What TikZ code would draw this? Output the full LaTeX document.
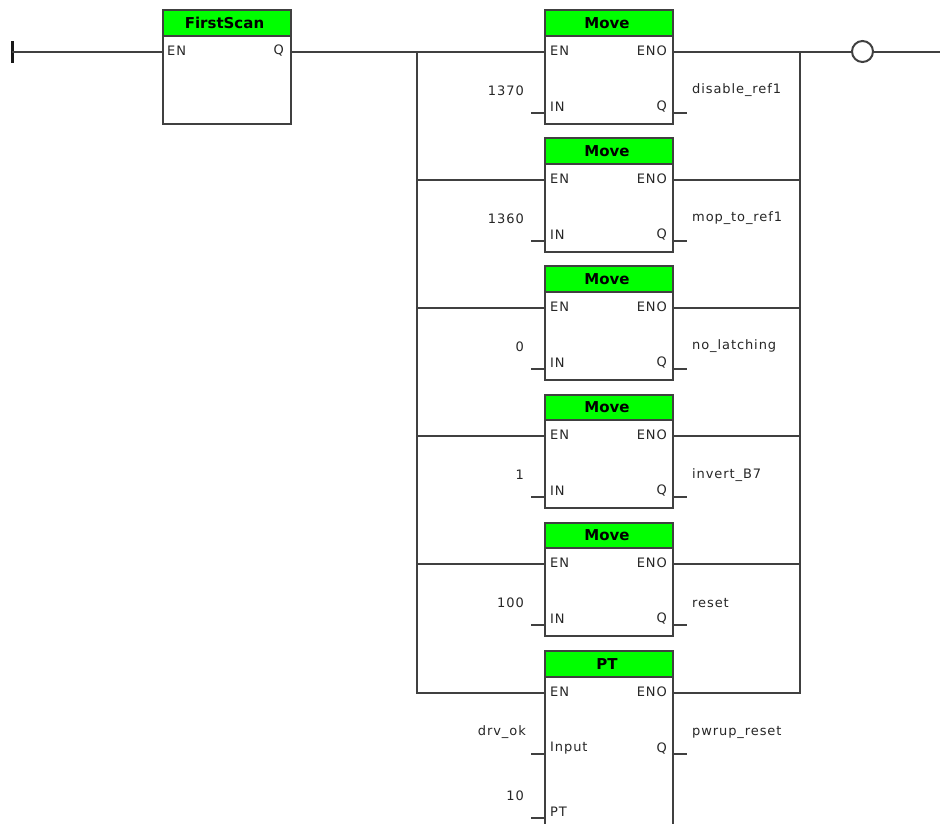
\documentclass[tikz,border=0pt]{standalone}
\usepackage{fontspec}
\newfontfamily\pinfont[LetterSpace=7]{DejaVu Sans}
\newfontfamily\headfont{DejaVu Sans Bold}
\tikzset{
  wire/.style={draw=black!75,line width=2pt},
  fbhead/.style={draw=black!75,line width=2pt,fill=green,minimum width=128pt,minimum height=25.5pt,inner sep=0pt,font=\headfont\fontsize{15}{15}\selectfont,execute at end node=\hspace*{4pt}},
  fbbody/.style={draw=black!75,line width=2pt,fill=white,minimum width=128pt,inner sep=0pt},
  pinl/.style={anchor=west,inner sep=0pt,font=\pinfont\fontsize{13}{13}\selectfont,text=black!85},
  pinr/.style={anchor=east,inner sep=0pt,font=\pinfont\fontsize{13}{13}\selectfont,text=black!85},
}
\begin{document}
\begin{tikzpicture}[x=1pt,y=-1pt]
   \useasboundingbox (0,0) rectangle (940,823);
   \clip (0,0) rectangle (940,823);

   % rail and contact block
   \draw[line width=3pt,black!90] (12,41) -- (12,63);
   \coordinate (rail) at (12,51.5);
   \node[fbbody,minimum height=88pt] (scanbody) at (226.5,79.5) {};
   \node[fbhead] (scanhead) at (226.5,23) {FirstScan};
   \coordinate (scanen) at (162.5,51.5);
   \coordinate (scanq) at (290.5,51.5);
   \node[pinl] (scanenl) at (167,50.5) {EN};
   \node[pinr] (scanql) at (284,50.5) {Q};

   % move blocks
   \node[fbbody,minimum height=88pt] (bodya) at (609,79.5) {};
   \node[fbhead] (heada) at (609,23) {Move};
   \node[fbbody,minimum height=88pt] (bodyb) at (609,207.5) {};
   \node[fbhead] (headb) at (609,151) {Move};
   \node[fbbody,minimum height=88pt] (bodyc) at (609,335.5) {};
   \node[fbhead] (headc) at (609,279) {Move};
   \node[fbbody,minimum height=88pt] (bodyd) at (609,464) {};
   \node[fbhead] (headd) at (609,407.5) {Move};
   \node[fbbody,minimum height=88pt] (bodye) at (609,592) {};
   \node[fbhead] (heade) at (609,535.5) {Move};
   \node[fbbody,minimum height=200pt] (bodyf) at (609,776) {};
   \node[fbhead] (headf) at (609,664) {PT};

   \coordinate (ena) at (545,51.5);  \coordinate (enoa) at (673,51.5);
   \coordinate (enb) at (545,179.5); \coordinate (enob) at (673,179.5);
   \coordinate (enc) at (545,307.5); \coordinate (enoc) at (673,307.5);
   \coordinate (end) at (545,436);   \coordinate (enod) at (673,436);
   \coordinate (ene) at (545,564);   \coordinate (enoe) at (673,564);
   \coordinate (enf) at (545,692.5); \coordinate (enof) at (673,692.5);

   \coordinate (busl) at (417,51.5);
   \coordinate (busr) at (800,51.5);
   \coordinate (buslb) at (417,179.5); \coordinate (busrb) at (800,179.5);
   \coordinate (buslc) at (417,307.5); \coordinate (busrc) at (800,307.5);
   \coordinate (busld) at (417,436);   \coordinate (busrd) at (800,436);
   \coordinate (busle) at (417,564);   \coordinate (busre) at (800,564);
   \coordinate (buslf) at (417,692.5); \coordinate (busrf) at (800,692.5);

   \node[draw=black!75,line width=2pt,circle,minimum size=21pt,inner sep=0pt] (coil) at (862.5,51.5) {};
   \coordinate (railr) at (940,51.5);

   % rungs
   \draw[wire] (rail) -- (scanen);
   \draw[wire] (scanq) -- (ena);
   \draw[wire] (enoa) -- (coil);
   \draw[wire] (coil) -- (railr);
   \draw[wire] (busl) -- (buslf) -- (enf);
   \draw[wire] (busr) -- (busrf) -- (enof);
   \draw[wire] (buslb) -- (enb);
   \draw[wire] (buslc) -- (enc);
   \draw[wire] (busld) -- (end);
   \draw[wire] (busle) -- (ene);
   \draw[wire] (enob) -- (busrb);
   \draw[wire] (enoc) -- (busrc);
   \draw[wire] (enod) -- (busrd);
   \draw[wire] (enoe) -- (busre);

   % stubs
   \draw[wire] (bodya.west |- 0,112.5) -- ++(-13,0);
   \draw[wire] (bodya.east |- 0,112.5) -- ++(13,0);
   \draw[wire] (bodyb.west |- 0,240.5) -- ++(-13,0);
   \draw[wire] (bodyb.east |- 0,240.5) -- ++(13,0);
   \draw[wire] (bodyc.west |- 0,368.5) -- ++(-13,0);
   \draw[wire] (bodyc.east |- 0,368.5) -- ++(13,0);
   \draw[wire] (bodyd.west |- 0,497) -- ++(-13,0);
   \draw[wire] (bodyd.east |- 0,497) -- ++(13,0);
   \draw[wire] (bodye.west |- 0,625) -- ++(-13,0);
   \draw[wire] (bodye.east |- 0,625) -- ++(13,0);
   \draw[wire] (bodyf.west |- 0,754) -- ++(-13,0);
   \draw[wire] (bodyf.east |- 0,754) -- ++(13,0);
   \draw[wire] (bodyf.west |- 0,818) -- ++(-13,0);

   % pin texts
   \node[pinl] (ena1) at (550,50.5) {EN};   \node[pinr] (enoa1) at (667,50.5) {ENO};
   \node[pinl] (ina) at (550,106.5) {IN};   \node[pinr] (qa) at (667,106.5) {Q};
   \node[pinl] (enb1) at (550,178.5) {EN};  \node[pinr] (enob1) at (667,178.5) {ENO};
   \node[pinl] (inb) at (550,234.5) {IN};   \node[pinr] (qb) at (667,234.5) {Q};
   \node[pinl] (enc1) at (550,306.5) {EN};  \node[pinr] (enoc1) at (667,306.5) {ENO};
   \node[pinl] (inc) at (550,362.5) {IN};   \node[pinr] (qc) at (667,362.5) {Q};
   \node[pinl] (end1) at (550,435) {EN};    \node[pinr] (enod1) at (667,435) {ENO};
   \node[pinl] (ind) at (550,491) {IN};     \node[pinr] (qd) at (667,491) {Q};
   \node[pinl] (ene1) at (550,563) {EN};    \node[pinr] (enoe1) at (667,563) {ENO};
   \node[pinl] (ine) at (550,619) {IN};     \node[pinr] (qe) at (667,619) {Q};
   \node[pinl] (enf1) at (550,691.5) {EN};  \node[pinr] (enof1) at (667,691.5) {ENO};
   \node[pinl] (inf) at (550,748) {Input};  \node[pinr] (qf) at (667,748) {Q};
   \node[pinl] (ptf) at (550,812) {PT};

   % values
   \node[pinr] (vala) at (524,90.5) {1370};
   \node[pinl] (outa) at (692,90.5) {disable\_ref1};
   \node[pinr] (valb) at (524,218.5) {1360};
   \node[pinl] (outb) at (692,218.5) {mop\_to\_ref1};
   \node[pinr] (valc) at (524,346.5) {0};
   \node[pinl] (outc) at (692,346.5) {no\_latching};
   \node[pinr] (vald) at (524,475) {1};
   \node[pinl] (outd) at (692,475) {invert\_B7};
   \node[pinr] (vale) at (524,603) {100};
   \node[pinl] (oute) at (692,603) {reset};
   \node[pinr] (valf) at (526,732.5) {drv\_ok};
   \node[pinl] (outf) at (692,732.5) {pwrup\_reset};
   \node[pinr] (valg) at (524,796) {10};
\end{tikzpicture}
\end{document}
